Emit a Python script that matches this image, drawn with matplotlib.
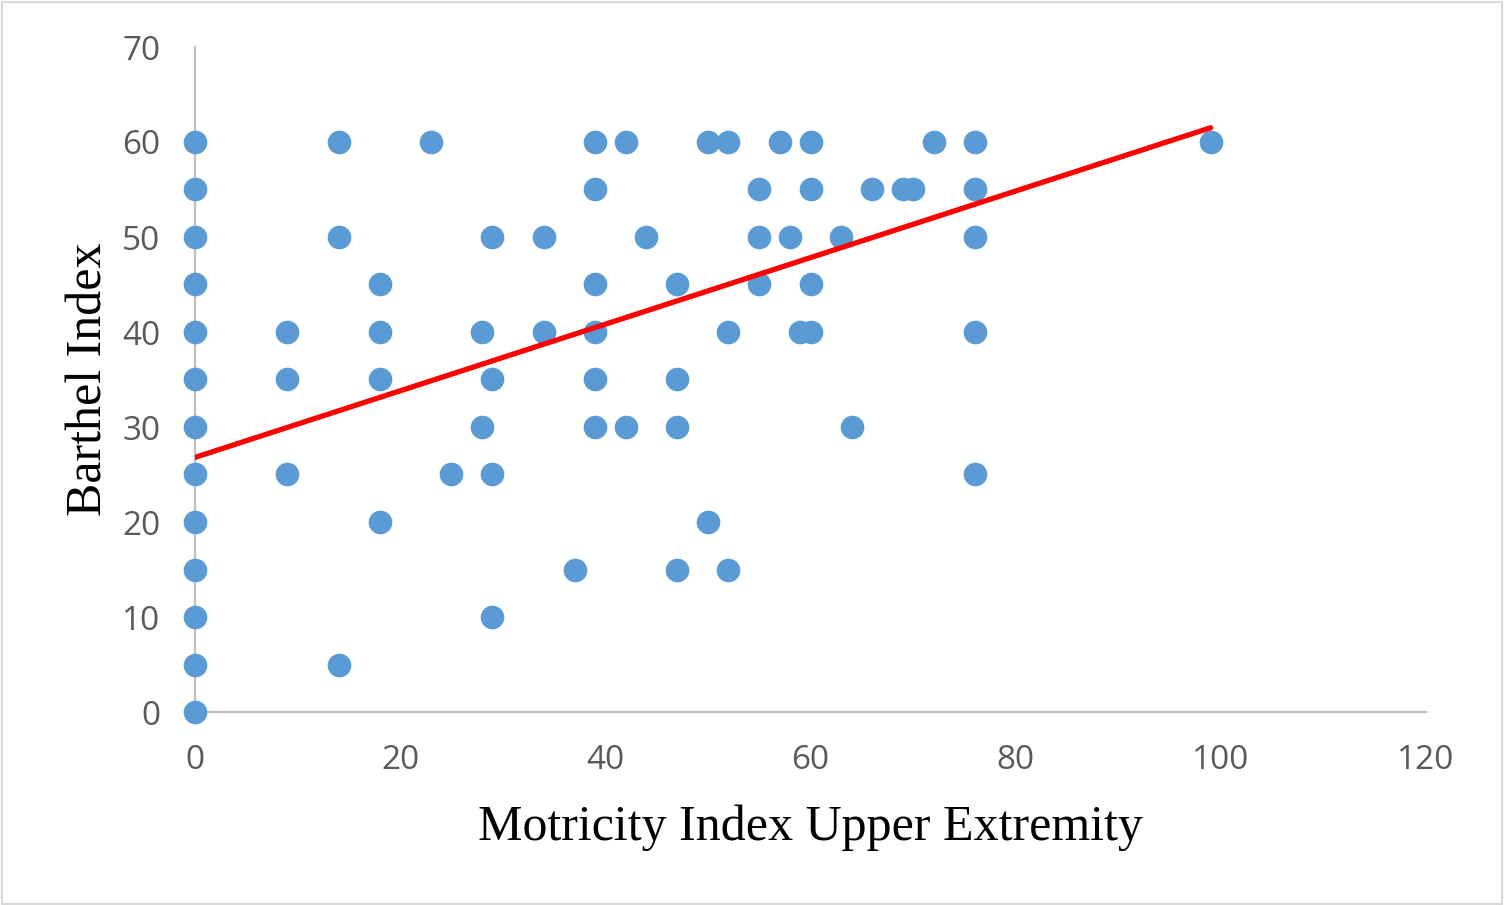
import numpy as np
from matplotlib import pyplot as plt
from matplotlib.patches import Rectangle

# values, grouped by Barthel score
motricity = [0, 14, 23, 39, 42, 50, 52, 57, 60, 72, 76, 99,
             0, 39, 55, 60, 66, 69, 70, 76,
             0, 14, 29, 34, 44, 55, 58, 63, 76,
             0, 18, 39, 47, 55, 60,
             0, 9, 18, 28, 34, 39, 52, 59, 60, 76,
             0, 9, 18, 29, 39, 47,
             0, 28, 39, 42, 47, 64,
             0, 9, 25, 29, 76,
             0, 18, 50,
             0, 37, 47, 52,
             0, 29,
             0, 14,
             0]
barthel = [60] * 12 + [55] * 8 + [50] * 9 + [45] * 6 + [40] * 10 + \
          [35] * 6 + [30] * 6 + [25] * 5 + [20] * 3 + [15] * 4 + \
          [10] * 2 + [5] * 2 + [0]

# linear trendline as drawn in the reference (end points)
trend_x = [0, 99]
trend_y = [26.8, 61.5]

fig = plt.figure(figsize=(15.04, 9.05), dpi=100)
ax = fig.add_axes([195 / 1504, 1 - 712 / 905, (1426 - 195) / 1504, (712 - 47) / 905])

ax.scatter(motricity, barthel, s=290, c="#5B9BD5", zorder=3, linewidths=0, clip_on=False)
ax.plot(trend_x, trend_y, color="red", lw=3.8, zorder=4, solid_capstyle="round")

ax.set_xlim(0, 120)
ax.set_ylim(0, 70)
ax.set_xticks(range(0, 121, 20))
ax.set_yticks(range(0, 71, 10))

for side in ["top", "right"]:
    ax.spines[side].set_visible(False)
for side in ["left", "bottom"]:
    ax.spines[side].set_color("#BFBFBF")
    ax.spines[side].set_linewidth(1.6)

ax.tick_params(length=0, labelsize=24, labelcolor="#595959")
ax.tick_params(axis="x", pad=23)
ax.tick_params(axis="y", pad=25)
for lab in ax.get_xticklabels() + ax.get_yticklabels():
    lab.set_family("Open Sans")

ax.set_xlabel("Motricity Index Upper Extremity", family="Liberation Serif",
              fontsize=36, labelpad=20)
ax.set_ylabel("Barthel Index", family="Liberation Serif", fontsize=36, labelpad=7)

fig.patches.append(Rectangle((0.001, 0.001), 0.998, 0.997, transform=fig.transFigure,
                             fill=False, edgecolor="#D9D9D9", lw=1.5))

fig.savefig("out.png", dpi=100, facecolor="white")
